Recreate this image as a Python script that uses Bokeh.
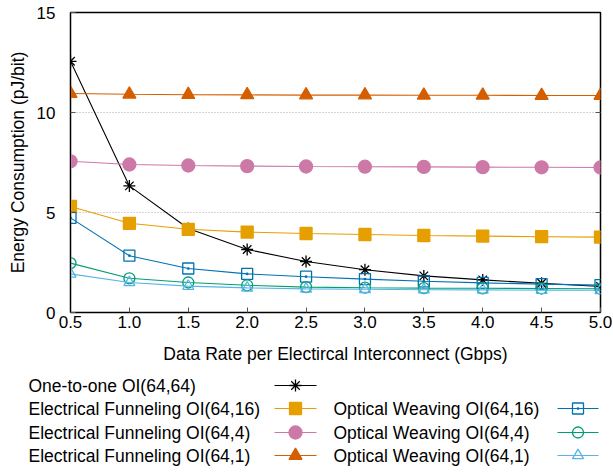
from bokeh.plotting import figure
from bokeh.layouts import column, row
from bokeh.models import Range1d, FixedTicker, PrintfTickFormatter, LinearAxis
from bokeh.core.properties import value
from bokeh.embed import file_html
from bokeh.resources import INLINE

# ---- data ----
rates = [0.5, 1.0, 1.5, 2.0, 2.5, 3.0, 3.5, 4.0, 4.5, 5.0]
one_to_one_64_64 = [12.56, 6.33, 4.20, 3.15, 2.55, 2.14, 1.83, 1.63, 1.46, 1.30]
ef_64_16 = [5.30, 4.46, 4.16, 4.02, 3.95, 3.90, 3.85, 3.82, 3.79, 3.77]
ef_64_4 = [7.56, 7.40, 7.35, 7.32, 7.30, 7.29, 7.28, 7.27, 7.26, 7.25]
ef_64_1 = [10.95, 10.91, 10.89, 10.88, 10.87, 10.87, 10.86, 10.86, 10.85, 10.85]
ow_64_16 = [4.73, 2.84, 2.20, 1.93, 1.79, 1.67, 1.56, 1.48, 1.42, 1.37]
ow_64_4 = [2.47, 1.71, 1.50, 1.36, 1.27, 1.24, 1.22, 1.21, 1.20, 1.19]
ow_64_1 = [1.93, 1.50, 1.32, 1.23, 1.18, 1.16, 1.14, 1.13, 1.12, 1.11]

labels = ["One-to-one OI(64,64)",
          "Electrical Funneling OI(64,16)", "Electrical Funneling OI(64,4)",
          "Electrical Funneling OI(64,1)",
          "Optical Weaving OI(64,16)", "Optical Weaving OI(64,4)",
          "Optical Weaving OI(64,1)"]
x_ticks = [0.5, 1.0, 1.5, 2.0, 2.5, 3.0, 3.5, 4.0, 4.5, 5.0]
y_ticks = [0, 5, 10, 15]
mirror_ticks = [5, 10]

FONT = "Liberation Sans"
series = [
    # data, color, marker, size, filled
    (one_to_one_64_64, "#000000", "asterisk", 12, False),
    (ef_64_16, "#E69F00", "square", 12, True),
    (ef_64_4, "#CC79A7", "circle", 13, True),
    (ef_64_1, "#D55E00", "triangle", 13, True),
    (ow_64_16, "#0072B2", "square_dot", 11, False),
    (ow_64_4, "#009E73", "circle", 11, False),
    (ow_64_1, "#56B4E9", "triangle", 11, False),
]

p = figure(width=613, height=372, output_backend="svg", toolbar_location=None,
           x_range=Range1d(0.5, 5.0), y_range=Range1d(0, 15),
           min_border_left=70, min_border_right=13, min_border_top=12,
           min_border_bottom=60)
p.background_fill_color = "white"
p.border_fill_color = "white"
p.outline_line_color = "black"
p.outline_line_width = 1.5

for data, color, marker, size, filled in series:
    p.line(rates, data, line_color=color, line_width=1.1)
    p.scatter(rates, data, marker=marker, size=size, line_color=color,
              fill_color=color if filled else None, line_width=1.3)

# axes
p.xaxis.ticker = FixedTicker(ticks=x_ticks)
p.xaxis.formatter = PrintfTickFormatter(format="%.1f")
p.yaxis.ticker = FixedTicker(ticks=y_ticks)
for ax in (p.xaxis[0], p.yaxis[0]):
    ax.major_tick_in = 5
    ax.major_tick_out = 0
    ax.minor_tick_in = 0
    ax.minor_tick_out = 0
    ax.major_tick_line_color = "#555555"
    ax.axis_line_color = "black"
    ax.major_label_text_font = FONT
    ax.major_label_text_font_size = "17px"
    ax.major_label_text_color = "black"
    ax.axis_label_text_font = FONT
    ax.axis_label_text_font_size = "17.5px"
    ax.axis_label_text_font_style = "normal"
    ax.axis_label_text_color = "black"
p.xaxis.major_label_standoff = 3
p.xaxis.axis_label_standoff = 13
p.yaxis.major_label_standoff = 15
p.yaxis.axis_label_standoff = 6
p.xaxis.axis_label = "Data Rate per Electircal Interconnect (Gbps)"
p.yaxis.axis_label = "Energy Consumption (pJ/bit)"

# mirrored tick marks on the right edge (no labels)
right = LinearAxis(ticker=FixedTicker(ticks=mirror_ticks),
                   major_label_overrides={t: "" for t in mirror_ticks},
                   major_label_text_color=None, major_label_standoff=0,
                   axis_line_color=None, major_tick_in=5, major_tick_out=0,
                   minor_tick_in=0, minor_tick_out=0,
                   major_tick_line_color="#555555")
p.add_layout(right, "right")

p.xgrid.visible = False
p.ygrid.ticker = FixedTicker(ticks=mirror_ticks)
p.ygrid.grid_line_color = "#aaaaaa"
p.ygrid.grid_line_dash = "1 2"
p.ygrid.grid_line_width = 1

# ---- legend (text on the left, sample on the right, gnuplot style) ----
lg = figure(width=613, height=100, output_backend="svg", toolbar_location=None,
            x_range=Range1d(0, 613), y_range=Range1d(100, 0),
            x_axis_type=None, y_axis_type=None,
            min_border=0, min_border_left=0, min_border_right=0,
            min_border_top=0, min_border_bottom=0)
lg.grid.visible = False
lg.outline_line_color = None
lg.background_fill_color = "white"
lg.border_fill_color = "white"

row_y = [13, 36, 60, 83]
slots = [(0, 0), (0, 1), (0, 2), (0, 3), (1, 1), (1, 2), (1, 3)]
text_x = [28, 333]
sample_x = [(274, 316), (557, 598)]
for (col, r), lab, (data, color, marker, size, filled) in zip(slots, labels, series):
    y = row_y[r]
    lg.text([text_x[col]], [y], text=[lab], text_font=value(FONT),
            text_font_size="17.5px", text_baseline="middle", text_align="left",
            text_color="black")
    x0, x1 = sample_x[col]
    lg.line([x0, x1], [y, y], line_color=color, line_width=1.1)
    lg.scatter([(x0 + x1) / 2], [y], marker=marker, size=size, line_color=color,
               fill_color=color if filled else None, line_width=1.3)

layout = column(row(p), row(lg), spacing=0)
open("out.html", "w").write(file_html(layout, INLINE))
